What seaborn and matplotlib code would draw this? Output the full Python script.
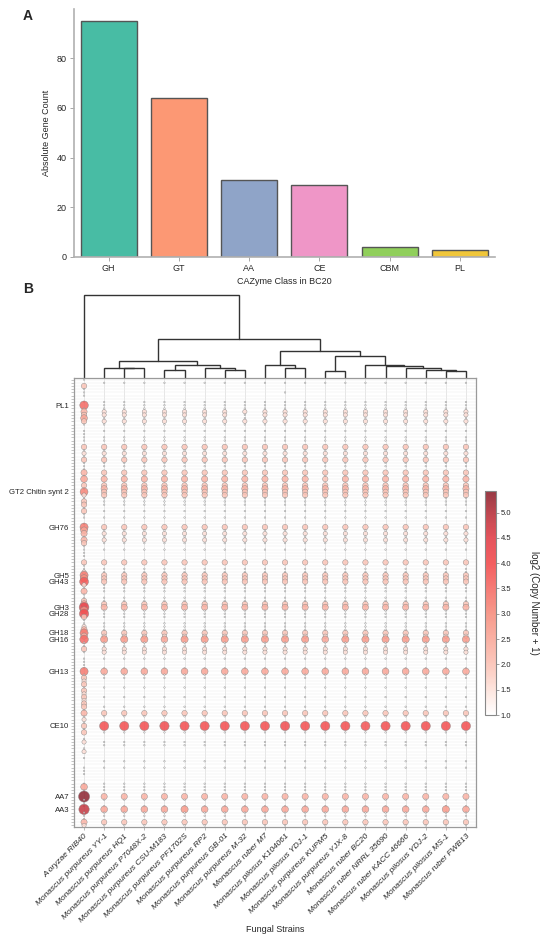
import numpy as np
import pandas as pd
import matplotlib
matplotlib.use("Agg")
import matplotlib.pyplot as plt
from matplotlib.colors import LinearSegmentedColormap, Normalize
from matplotlib.cm import ScalarMappable
import seaborn as sns

# ---------------- Panel A data ----------------
cazyme_classes = ["GH", "GT", "AA", "CE", "CBM", "PL"]
gene_counts = [95, 64, 31, 29, 4, 3]
class_colors = ["#48bca4", "#fc9874", "#8fa4c8", "#ef96c7", "#90cf5b", "#f0c63a"]

# ---------------- Panel B data ----------------
strains = [
    "A oryzae RIB40",
    "Monascus purpureus YY-1",
    "Monascus purpureus HQ1",
    "Monascus purpureus P7048X-2",
    "Monascus purpureus CSU-M183",
    "Monascus purpureus PF1702S",
    "Monascus purpureus RP2",
    "Monascus purpureus GB-01",
    "Monascus purpureus M-32",
    "Monascus ruber M7",
    "Monascus pilosus K104061",
    "Monascus pilosus YDJ-1",
    "Monascus purpureus KUPM5",
    "Monascus purpureus YJX-8",
    "Monascus ruber BC20",
    "Monascus ruber NRRL 35690",
    "Monascus ruber KACC 46666",
    "Monascus pilosus YDJ-2",
    "Monascus pilosus MS-1",
    "Monascus ruber FWB13",
]

labeled_rows = [8, 35, 46, 61, 63, 71, 73, 79, 81, 91, 108, 130, 134]
labeled_names = ["PL1", "GT2 Chitin synt 2", "GH76", "GH5", "GH43", "GH3", "GH28",
                 "GH18", "GH16", "GH13", "CE10", "AA7", "AA3"]

# copy numbers per family (row) and strain (column), one character per strain
COUNT_CODES = "0123456789abcdefghijklmnopqrstuvwxyzABCDEFGH"
copy_rows = [
    "10000000000000000000",  # 0
    "01111111111111111111",  # 1
    "30000000000000000000",  # 2
    "10000000000000000000",  # 3
    "10000000001000000000",  # 4
    "10000000000000000000",  # 5
    "00000000000000000000",  # 6
    "11111111111111111111",  # 7
    "b1111111111111111111",  # 8  PL1
    "11111111111111111111",  # 9
    "42222222222222222222",  # 10
    "32222222122222222222",  # 11
    "51111111111111111111",  # 12
    "32222222222222222222",  # 13
    "11111111111111111111",  # 14
    "00000000000000000000",  # 15
    "11111111111111111111",  # 16
    "10000000000000000000",  # 17
    "11111111111111111111",  # 18
    "11111111111111111111",  # 19
    "00000000000000000000",  # 20
    "33333333333333333333",  # 21
    "11111111111111111111",  # 22
    "22222222222222222222",  # 23
    "11111111111111111111",  # 24
    "33333333333333333333",  # 25
    "11111111111111111111",  # 26
    "11111111111111111111",  # 27
    "10000000000000000000",  # 28
    "43333333333333333333",  # 29
    "11111111111111111111",  # 30
    "54444444444434444444",  # 31
    "00000000000000000000",  # 32
    "33333333333333333333",  # 33
    "14444444444444444444",  # 34
    "83333333333333333333",  # 35 GT2 Chitin synt 2
    "23333333333333333333",  # 36
    "11111111111111111111",  # 37
    "31111111111111111111",  # 38
    "31111111111111111111",  # 39
    "10000000000000000000",  # 40
    "31111111111111111111",  # 41
    "10000000000000000000",  # 42
    "11111111111111111111",  # 43
    "00000000000000000000",  # 44
    "10000000000000000000",  # 45
    "93333333333333333333",  # 46 GH76
    "51111111111111111111",  # 47
    "42222222222222222222",  # 48
    "11111111111111111111",  # 49
    "42222222222222222222",  # 50
    "31111111111111111111",  # 51
    "10000000000000000000",  # 52
    "11111111111111111111",  # 53
    "10000000000000000000",  # 54
    "10000000000000000000",  # 55
    "00000000000000000000",  # 56
    "33333333333333333333",  # 57
    "10000000000000000000",  # 58
    "11111111111111111111",  # 59
    "21111111111111111111",  # 60
    "93333333333333333333",  # 61 GH5
    "73333333333333333333",  # 62
    "d3333333333333333333",  # 63 GH43
    "21111111111111111111",  # 64
    "11111111111111111111",  # 65
    "41111111111111111111",  # 66
    "10000000000000000000",  # 67
    "11111111111111111111",  # 68
    "31111111111111111111",  # 69
    "53333333333333333333",  # 70
    "k4444444444444444444",  # 71 GH3
    "71111111111111111111",  # 72
    "g1111111111111111111",  # 73 GH28
    "31111111111111111111",  # 74
    "10000000000000000000",  # 75
    "11111111111111111111",  # 76
    "21111111111111111111",  # 77
    "41111111111111111111",  # 78
    "93333333333333333333",  # 79 GH18
    "42222222222222222222",  # 80
    "b6665666666656666666",  # 81 GH16
    "11111111111111111111",  # 82
    "11111111111111111111",  # 83
    "32222222222222222222",  # 84
    "12222222222222222222",  # 85
    "00000000000000000000",  # 86
    "11111111111111111111",  # 87
    "10000000000000000000",  # 88
    "10000000000000000000",  # 89
    "11111111111111111111",  # 90
    "95555555555555555555",  # 91 GH13
    "11111111111111111111",  # 92
    "31111111111111111111",  # 93
    "20000000000000000000",  # 94
    "30000000000000000000",  # 95
    "11111111111111111111",  # 96
    "30000000000000000000",  # 97
    "20000000000000000000",  # 98
    "31111111111111111111",  # 99
    "20000000000000000000",  # 100
    "30000000000000000000",  # 101
    "31111111111111111111",  # 102
    "10000000000000000000",  # 103
    "43333333333333333333",  # 104
    "11111111111111111111",  # 105
    "20000000000000000000",  # 106
    "10000000000000000000",  # 107
    "3fffgfffffgfffefffff",  # 108 CE10
    "10000000000000000000",  # 109
    "31111111111111111111",  # 110
    "00000000000000000000",  # 111
    "10000000000000000000",  # 112
    "21111111111111111111",  # 113
    "01111111111111111111",  # 114
    "10000000000000000000",  # 115
    "20000000000000000000",  # 116
    "00000000000000000000",  # 117
    "10000000000000000000",  # 118
    "01111111111111111111",  # 119
    "00000000000000000000",  # 120
    "11111111111111111111",  # 121
    "10000000000000000000",  # 122
    "10000000000000000000",  # 123
    "00000000000000000000",  # 124
    "00000000000000000000",  # 125
    "11111111111111111111",  # 126
    "51111111111111111111",  # 127
    "11111111111111111111",  # 128
    "00000000000000000000",  # 129
    "G4444444444444444444",  # 130 AA7
    "11111111111111111111",  # 131
    "10000000000000000000",  # 132
    "11111111111111111111",  # 133
    "s5555655555555555565",  # 134 AA3
    "11111111111111111111",  # 135
    "11111111111111111111",  # 136
    "10000000000000000000",  # 137
    "43333333333333333333",  # 138
    "21111111111111111111",  # 139
]

# strain dendrogram: (left node, right node, height); new nodes numbered from 20
dendro_merges = [
    (2, 3, 29), (1, 20, 30),
    (4, 5, 23), (7, 8, 23), (6, 23, 30), (22, 24, 38),
    (21, 25, 52),
    (10, 11, 30), (9, 27, 40),
    (12, 13, 20),
    (18, 19, 20), (17, 30, 25), (16, 31, 30), (15, 32, 35), (14, 33, 40),
    (29, 34, 67),
    (28, 35, 80),
    (26, 36, 118),
    (0, 37, 250),
]

# ---------------- build long table ----------------
records = []
for r, row in enumerate(copy_rows):
    assert len(row) == len(strains), (r, len(row))
    for c, ch in enumerate(row):
        n = COUNT_CODES.index(ch)
        if n > 0:
            records.append({"strain": c, "family": r, "value": np.log2(n + 1)})
df = pd.DataFrame(records)
vmax = np.log2(COUNT_CODES.index("G") + 1)
n_rows = len(copy_rows)

cmap = LinearSegmentedColormap.from_list("cnv", [
    (0.0, "#ffffff"), (0.113, "#fde2da"), (0.226, "#fbc2b5"), (0.451, "#f78f7f"),
    (0.677, "#f24d4f"), (0.79, "#e2414a"), (0.903, "#b8333d"), (1.0, "#8c2430")])

sns.set_style("ticks")
plt.rcParams["font.family"] = ["Liberation Sans", "DejaVu Sans"]

W, H = 550, 940
fig = plt.figure(figsize=(5.5, 9.4), dpi=100)


def box(l, t, r, b):
    return [l / W, 1 - b / H, (r - l) / W, (b - t) / H]


# ---------------- Panel A ----------------
ax_a = fig.add_axes(box(73.5, 9, 495, 257))
sns.barplot(x=cazyme_classes, y=gene_counts, hue=cazyme_classes, palette=class_colors,
            saturation=1, legend=False, edgecolor="#555555", linewidth=1.0, ax=ax_a)
ax_a.set_xlim(-0.5, 5.5)
ax_a.set_ylim(0, 99.75)
ax_a.set_yticks([0, 20, 40, 60, 80])
ax_a.set_xlabel("CAZyme Class in BC20", fontsize=6.5, labelpad=3)
ax_a.set_ylabel("Absolute Gene Count", fontsize=6.5, labelpad=4)
ax_a.tick_params(labelsize=6.5, length=3, width=0.6, color="#999999", pad=2)
sns.despine(ax=ax_a)
for s in ["left", "bottom"]:
    ax_a.spines[s].set_color("#b0b0b0")
    ax_a.spines[s].set_linewidth(1.2)

fig.text(28 / W, 1 - 16 / H, "A", fontsize=10, fontweight="bold", ha="center", va="center")
fig.text(28 / W, 1 - 289 / H, "B", fontsize=10, fontweight="bold", ha="center", va="center")

# ---------------- dendrogram ----------------
ax_den = fig.add_axes(box(74, 295, 476, 378))
pos = {i: (float(i), 0.0) for i in range(len(strains))}
for k, (a, b, h) in enumerate(dendro_merges):
    xa, ha = pos[a]
    xb, hb = pos[b]
    ax_den.plot([xa, xa, xb, xb], [ha, h, h, hb], color="#333333", lw=1.0,
                solid_joinstyle="miter", clip_on=False)
    pos[len(strains) + k] = ((xa + xb) / 2, h)
ax_den.set_xlim(-0.5, len(strains) - 0.5)
ax_den.set_ylim(0, 250)
ax_den.axis("off")

# ---------------- dot plot ----------------
ax_dot = fig.add_axes(box(74, 378, 476, 827))
sns.scatterplot(data=df, x="strain", y="family", hue="value", size="value",
                palette=cmap, hue_norm=(1, vmax), sizes=(1.2, 64), size_norm=(1, vmax),
                edgecolor="#858585", linewidth=0.35, alpha=0.85, legend=False,
                ax=ax_dot, zorder=3)
ax_dot.set_xlim(-0.5, len(strains) - 0.5)
ax_dot.set_ylim(n_rows - 0.5, -0.5)
ax_dot.set_xticks(range(len(strains)))
ax_dot.set_xticklabels(strains, rotation=45, ha="right", rotation_mode="anchor",
                       fontsize=6.0, style="italic")
ytick_labels = [""] * n_rows
for r, name in zip(labeled_rows, labeled_names):
    ytick_labels[r] = name
ax_dot.set_yticks(range(n_rows))
ax_dot.set_yticklabels(ytick_labels, fontsize=5.6)
ax_dot.tick_params(axis="y", length=2, width=0.4, color="#999999", pad=1.5)
ax_dot.tick_params(axis="x", length=2, width=0.5, color="#999999", pad=2)
ax_dot.set_xlabel("Fungal Strains", fontsize=6.5, labelpad=1)
ax_dot.set_ylabel("")
ax_dot.set_axisbelow(True)
ax_dot.grid(axis="y", color="#ebebeb", lw=0.3)
ax_dot.grid(axis="x", color="#dcdcdc", lw=0.5)
for s in ax_dot.spines.values():
    s.set_color("#9a9a9a")
    s.set_linewidth(0.9)
    s.set_visible(True)

# ---------------- colorbar ----------------
cax = fig.add_axes(box(485, 491, 496, 715))
sm = ScalarMappable(norm=Normalize(1, vmax), cmap=cmap)
cbar = fig.colorbar(sm, cax=cax, alpha=0.9)
cbar.set_ticks(np.arange(1.0, 5.01, 0.5))
cbar.ax.set_yticklabels([f"{t:.1f}" for t in np.arange(1.0, 5.01, 0.5)])
cbar.ax.tick_params(labelsize=5.5, length=2, width=0.5, color="#777777", pad=1.5)
cbar.outline.set_edgecolor("#888888")
cbar.outline.set_linewidth(0.8)
cbar.set_label("log2 (Copy Number + 1)", rotation=270, fontsize=7, labelpad=20)

fig.savefig("out.png", dpi=100)
plt.close(fig)
